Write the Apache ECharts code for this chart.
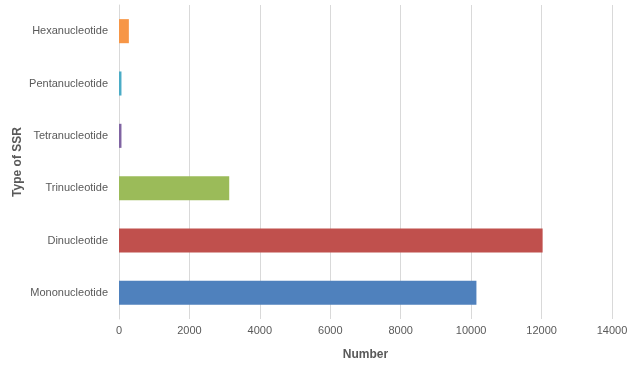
<!DOCTYPE html>
<html><head><meta charset="utf-8">
<script src="https://cdn.jsdelivr.net/npm/echarts@6/dist/echarts.min.js"></script>
<style>html,body{margin:0;padding:0;background:#fff}#c{width:642px;height:366px}</style>
</head><body><div id="c"></div>
<script>
const categories = ["Mononucleotide","Dinucleotide","Trinucleotide","Tetranucleotide","Pentanucleotide","Hexanucleotide"];
const values = [10150, 12030, 3130, 70, 70, 280];
const colors = ["#4F81BD","#C0504D","#9BBB59","#8064A2","#4BACC6","#F79646"];
const xTicks = [0,2000,4000,6000,8000,10000,12000,14000];

const chart = echarts.init(document.getElementById('c'));
const font = "'Liberation Sans', Arial, sans-serif";
chart.setOption({
  animation:false,
  grid:{left:119,right:30,top:5,bottom:47,containLabel:false,outerBoundsMode:'none'},
  xAxis:{type:'value',min:xTicks[0],max:xTicks[xTicks.length-1],interval:2000,
    name:'Number',nameLocation:'middle',nameGap:30,nameMoveOverlap:false,
    nameTextStyle:{fontFamily:font,fontSize:12,fontWeight:'bold',color:'#595959'},
    axisLine:{show:false},axisTick:{show:false},
    axisLabel:{fontFamily:font,fontSize:11,color:'#595959',margin:6,formatter:v=>String(v)},
    splitLine:{lineStyle:{color:'#d9d9d9',width:1}}},
  yAxis:{type:'category',data:categories,
    name:'Type of SSR',nameLocation:'middle',nameGap:95,nameRotate:90,nameMoveOverlap:false,
    nameTextStyle:{fontFamily:font,fontSize:12,fontWeight:'bold',color:'#595959'},
    axisLine:{show:true,lineStyle:{color:'#d9d9d9'}},axisTick:{show:false},
    axisLabel:{fontFamily:font,fontSize:11,color:'#595959',margin:11},
    splitLine:{show:false}},
  series:[{type:'bar',barCategoryGap:'54%',
    data:values.map((v,i)=>({value:v,itemStyle:{color:colors[i]}}))}]
});
</script></body></html>
